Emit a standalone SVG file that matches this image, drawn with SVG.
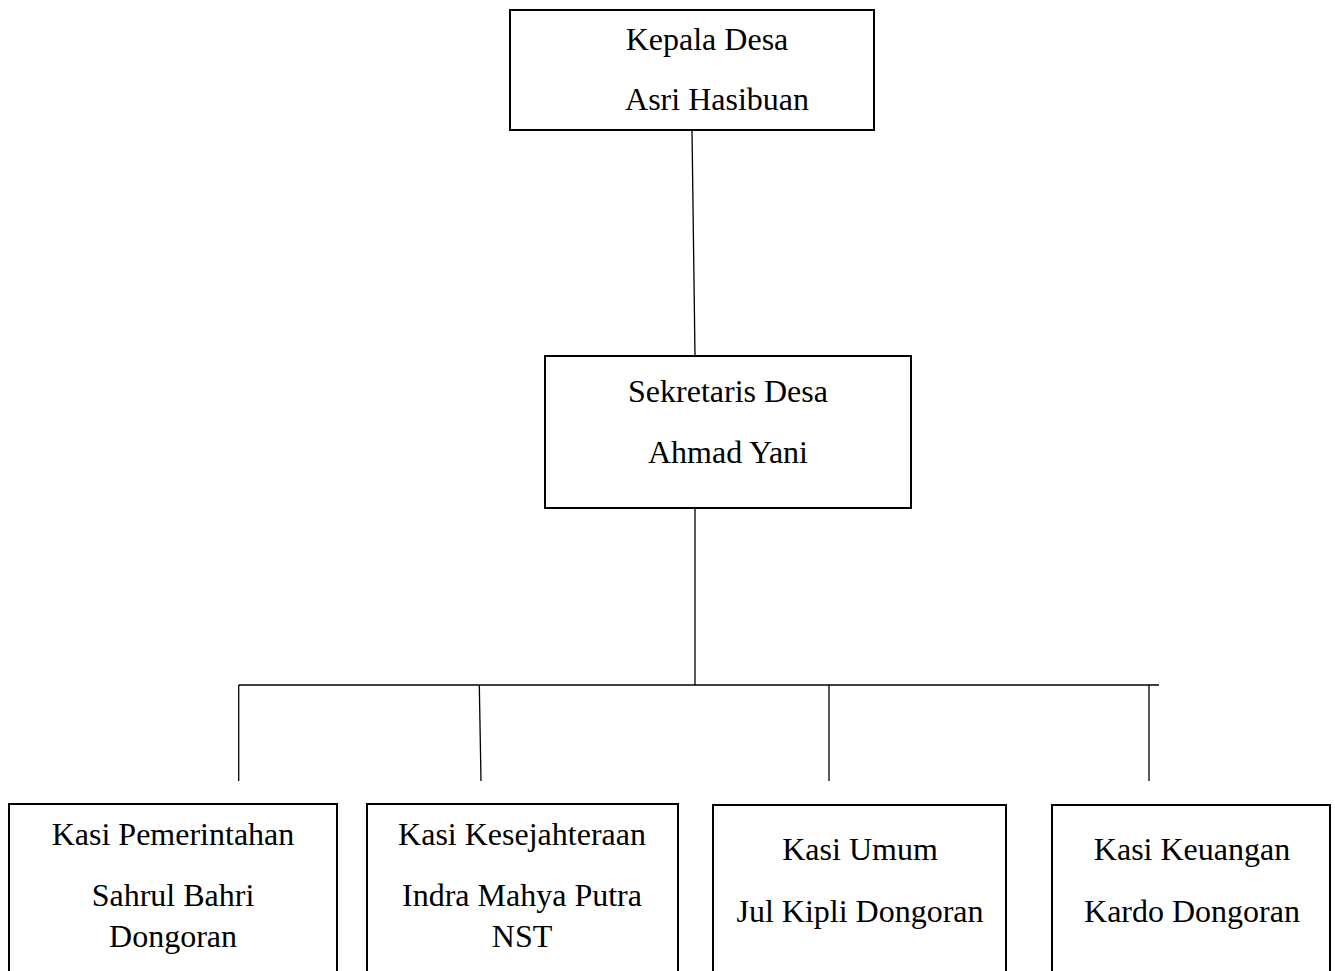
<svg xmlns="http://www.w3.org/2000/svg" width="1335" height="971" viewBox="0 0 1335 971">
<style>
.box{fill:#fff;stroke:#000;stroke-width:2}
.t{font-family:"Liberation Serif","Times New Roman",serif;font-size:32px;fill:#000;text-anchor:middle}
.c{stroke:#000;stroke-width:1.3;fill:none}
</style>
<rect width="1335" height="971" fill="#fff"/>
<g id="connectors">
<line class="c" x1="692" y1="130" x2="695" y2="356"/>
<line class="c" x1="695" y1="508" x2="695" y2="685"/>
<line class="c" x1="238.7" y1="685" x2="1159" y2="685"/>
<line class="c" x1="238.7" y1="685" x2="238.7" y2="781"/>
<line class="c" x1="479.3" y1="685" x2="481" y2="781"/>
<line class="c" x1="829" y1="685" x2="829" y2="781"/>
<line class="c" x1="1149" y1="685" x2="1149" y2="781"/>
</g>
<g id="kepala">
<rect class="box" x="510" y="10" width="364" height="120"/>
<text class="t" x="707" y="50">Kepala Desa</text>
<text class="t" x="717" y="110">Asri Hasibuan</text>
</g>
<g id="sekretaris">
<rect class="box" x="545" y="356" width="366" height="152"/>
<text class="t" x="728" y="402">Sekretaris Desa</text>
<text class="t" x="728" y="463">Ahmad Yani</text>
</g>
<g id="kasi-pemerintahan">
<rect class="box" x="9" y="804" width="328" height="180"/>
<text class="t" x="173" y="845">Kasi Pemerintahan</text>
<text class="t" x="173" y="906">Sahrul Bahri</text>
<text class="t" x="173" y="947">Dongoran</text>
</g>
<g id="kasi-kesejahteraan">
<rect class="box" x="367" y="804" width="311" height="180"/>
<text class="t" x="522" y="845">Kasi Kesejahteraan</text>
<text class="t" x="522" y="906">Indra Mahya Putra</text>
<text class="t" x="522" y="947">NST</text>
</g>
<g id="kasi-umum">
<rect class="box" x="713" y="805" width="293" height="180"/>
<text class="t" x="860" y="860">Kasi Umum</text>
<text class="t" x="860" y="922">Jul Kipli Dongoran</text>
</g>
<g id="kasi-keuangan">
<rect class="box" x="1052" y="805" width="278" height="180"/>
<text class="t" x="1192" y="860">Kasi Keuangan</text>
<text class="t" x="1192" y="922">Kardo Dongoran</text>
</g>
</svg>
